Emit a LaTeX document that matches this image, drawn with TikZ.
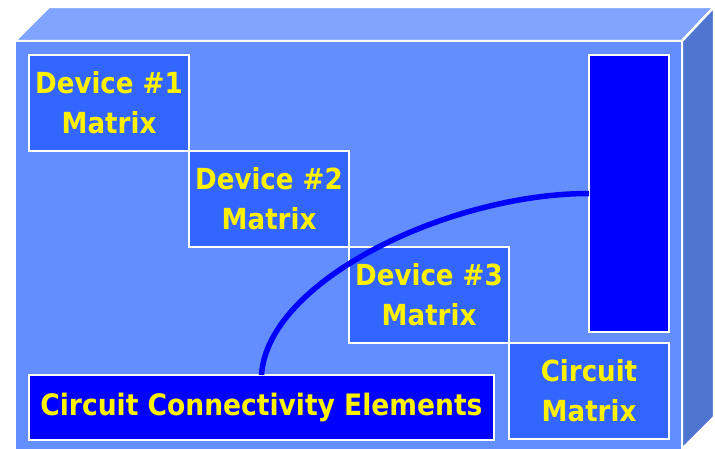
\documentclass[tikz,border=0pt]{standalone}
\usepackage{fontspec}
\setmainfont{DejaVu Sans Condensed}
\usetikzlibrary{positioning,calc}
\definecolor{frontF}{RGB}{99,142,255}
\definecolor{topF}{RGB}{128,164,255}
\definecolor{sideF}{RGB}{80,117,208}
\definecolor{matF}{RGB}{51,102,255}
\definecolor{deepB}{RGB}{0,0,255}

\begin{document}
\begin{tikzpicture}[
	x=1pt, y=-1pt,
	Face/.style={draw=white, line width=2.4pt, line join=miter},
	MatBox/.style={draw=white, line width=2.4pt, fill=matF, text=yellow,
		font=\bfseries\fontsize{29}{40}\selectfont, align=center,
		minimum width=160pt, minimum height=96pt, inner sep=0pt, outer sep=0pt},
	DeepBox/.style={draw=white, line width=2.4pt, fill=deepB, text=yellow,
		font=\bfseries\fontsize{29.5}{40}\selectfont, inner sep=0pt, outer sep=0pt},
	]
	\useasboundingbox (0,0) rectangle (715,449);
	% the box
	\fill[white] (0,0) rectangle (715,449);
	\draw[Face, fill=topF] (15,41) -- (49,7) -- (714,7) -- (682,41) -- cycle;
	\draw[Face, fill=sideF] (682,41) -- (714,7) -- (714,417) -- (682,449) -- cycle;
	\draw[Face, fill=frontF] (15,41) rectangle (682,452);
	% matrices
	\node [MatBox, anchor=north west] (dev1) at (29,55) {Device \#1\\Matrix};
	\node [MatBox, anchor=north west] (dev2) at (dev1.south east) {Device \#2\\Matrix};
	\node [MatBox, anchor=north west] (dev3) at (dev2.south east) {Device \#3\\Matrix};
	\node [MatBox, anchor=north west] (circ) at (dev3.south east) {Circuit\\Matrix};
	\node [DeepBox, anchor=north east, minimum width=80pt, minimum height=277pt]
		(stub) at (669,55) {};
	\node [DeepBox, anchor=north west, minimum width=465pt, minimum height=65pt]
		(conn) at (29,375) {Circuit Connectivity Elements};
	% link
	\draw[deepB, line width=5.5pt] (conn.north)
		.. controls ($(conn.north)+(6,-95)$) and ($(stub.west)+(-139,0)$) .. (stub.west);
\end{tikzpicture}
\end{document}
